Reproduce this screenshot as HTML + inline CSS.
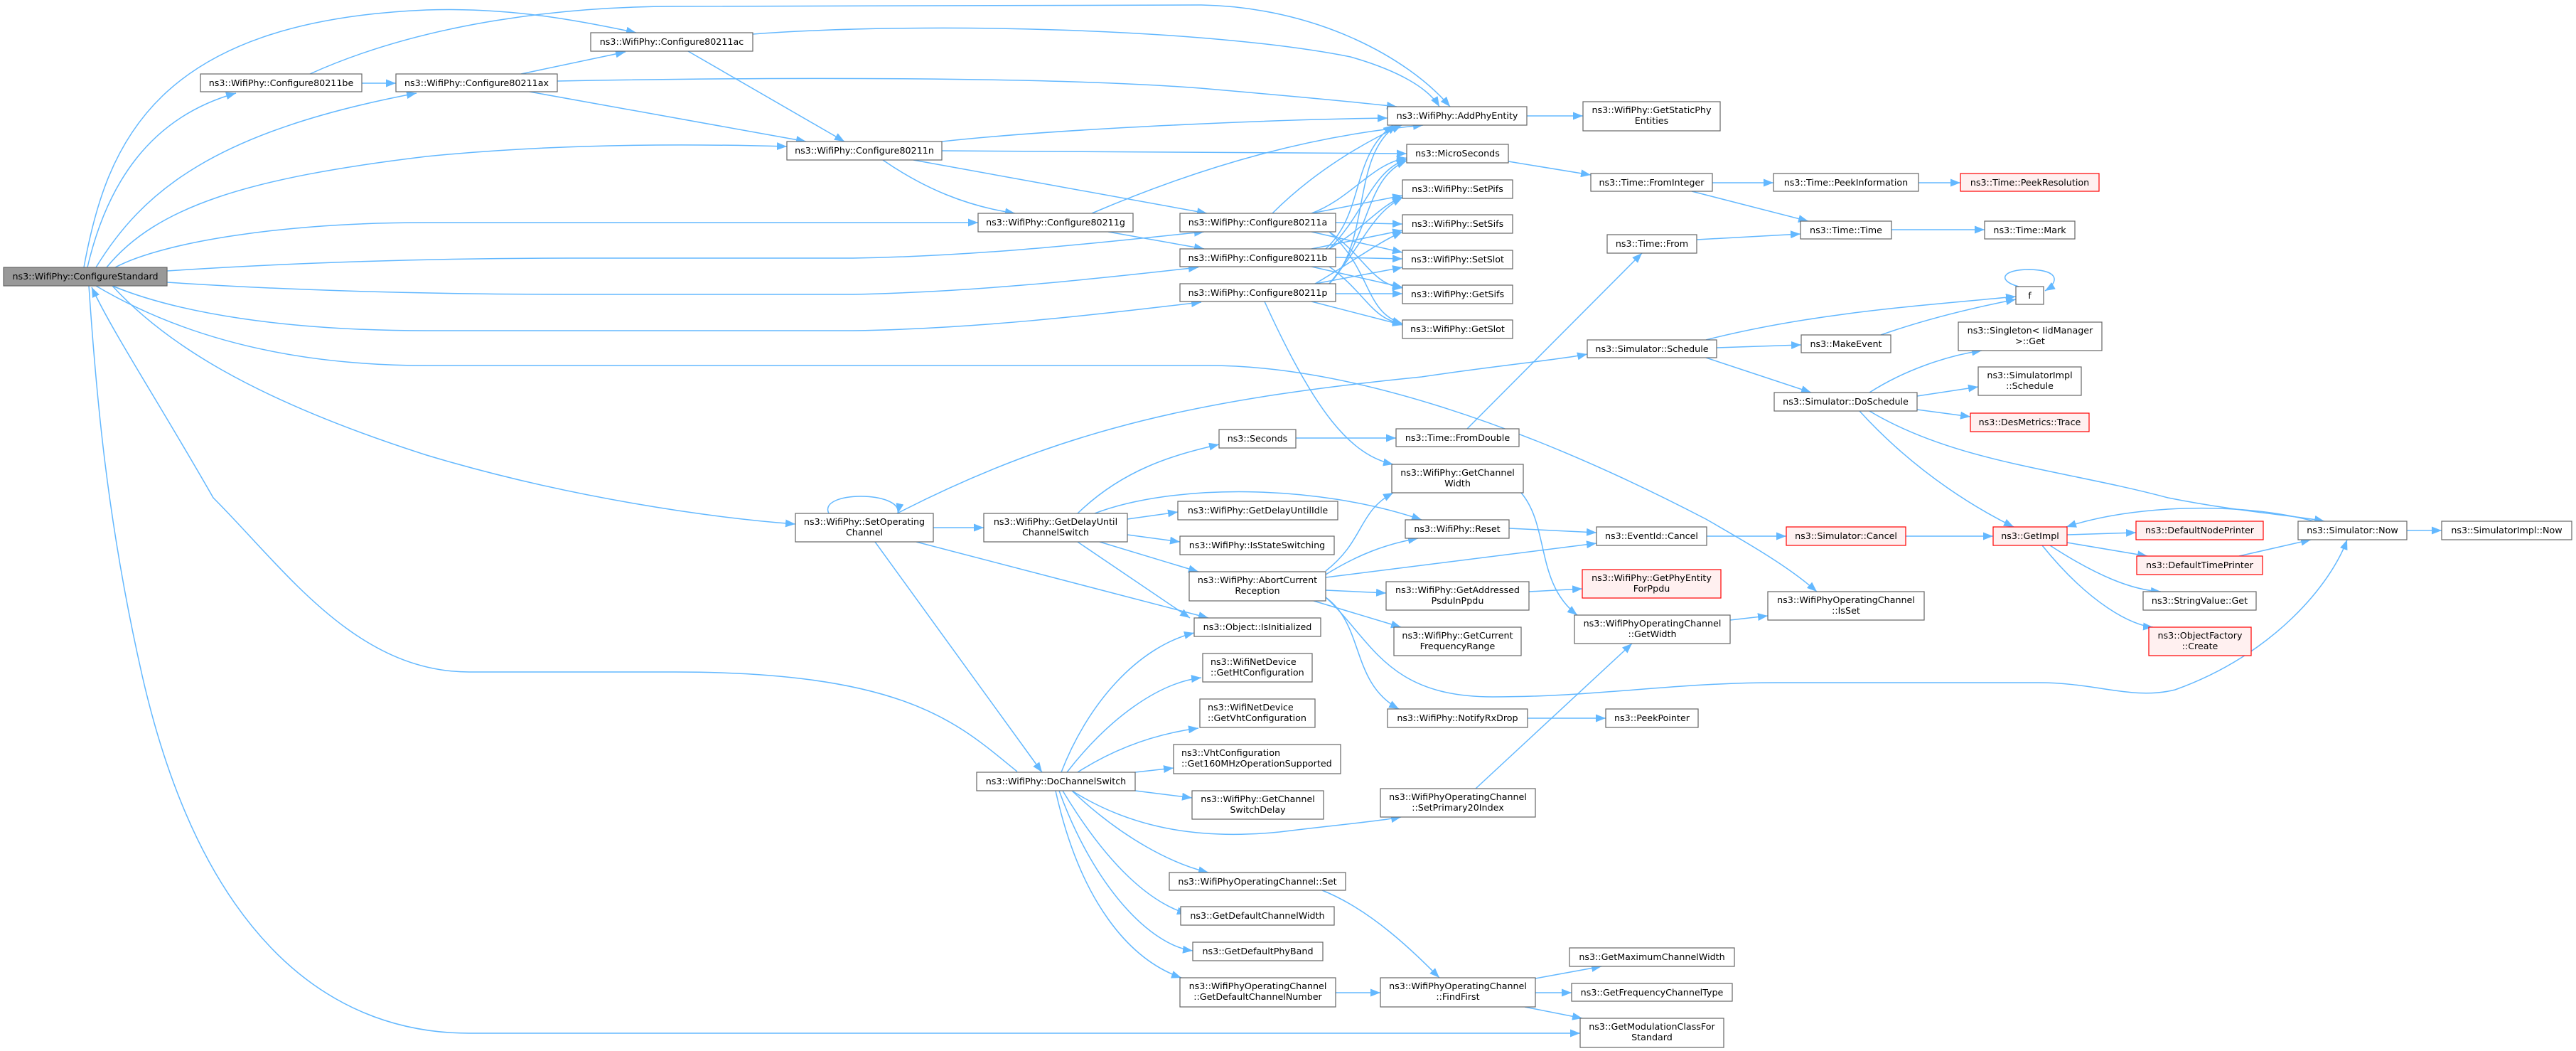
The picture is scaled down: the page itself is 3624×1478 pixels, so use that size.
<!DOCTYPE html>
<html><head><meta charset="utf-8"><style>
html,body{margin:0;padding:0;background:#fff;}
svg{display:block;}
text{font-family:"DejaVu Sans","Liberation Sans",sans-serif;font-size:12.7px;fill:#000;}
.e{fill:none;stroke:#63b8ff;stroke-width:1.5;marker-end:url(#ah);}
.n{fill:#fff;stroke:#666;stroke-width:1.2;}
.r{fill:#fff0f0;stroke:#ff0000;stroke-width:1.2;}
.root{fill:#999;stroke:#666;stroke-width:1.2;}
</style></head><body>
<svg width="3624" height="1478" viewBox="0 0 3624 1478" xmlns="http://www.w3.org/2000/svg">
<defs><marker id="ah" markerUnits="userSpaceOnUse" markerWidth="15" markerHeight="11" refX="14" refY="5.5" orient="auto"><path d="M0,0 L14,5.5 L0,11 z" fill="#63b8ff"/></marker></defs>
<g>
<path class="e" d="M123,376 C150,260 210,165 332,131"/>
<path class="e" d="M135,376 C200,270 300,185 586,131"/>
<path class="e" d="M118,376 C150,200 220,30 600,14 C720,10 820,30 895,46"/>
<path class="e" d="M436,104 C600,30 800,9 950,9 L1690,7 C1850,10 1980,80 2040,150"/>
<path class="e" d="M1059,48 C1300,30 1700,40 1900,80 C1970,100 2010,125 2025,150"/>
<path class="e" d="M784,114 C1100,108 1500,108 1700,125 C1850,138 1930,146 1965,150"/>
<path class="e" d="M1325,199 C1500,180 1800,168 1952,166"/>
<path class="e" d="M150,376 C220,290 350,250 600,220 C800,200 1000,203 1107,206"/>
<path class="e" d="M162,376 C230,340 400,313 600,313 L1376,313"/>
<path class="e" d="M235,381 C400,370 600,363 800,363 L1200,363 C1400,360 1600,335 1694,326"/>
<path class="e" d="M235,397 C400,408 600,414 800,414 L1200,414 C1400,410 1600,385 1686,376"/>
<path class="e" d="M158,402 C250,440 400,465 600,465 L1200,465 C1400,462 1600,435 1690,425"/>
<path class="e" d="M135,402 C250,470 400,514 600,514 L1700,514 C1900,514 2150,600 2400,730 C2470,770 2520,800 2556,832"/>
<path class="e" d="M158,402 C230,480 350,560 600,640 C800,700 1000,728 1119,737"/>
<path class="e" d="M1431,1085 C1350,1020 1280,945 950,945 L660,945 C500,945 400,800 300,700 C220,560 160,470 129,404"/>
<path class="e" d="M125,402 C135,550 150,730 200,950 C280,1300 450,1453 660,1453 L2223,1453"/>
<path class="e" d="M509,117 L557,117"/>
<path class="e" d="M733,104 L880,73"/>
<path class="e" d="M745,129 L1134,199"/>
<path class="e" d="M968,72 L1188,199"/>
<path class="e" d="M1325,212 C1600,213 1800,215 1979,216"/>
<path class="e" d="M1242,225 C1300,265 1360,290 1428,300"/>
<path class="e" d="M1285,225 L1698,300"/>
<path class="e" d="M1536,300 C1700,230 1850,190 2002,176"/>
<path class="e" d="M1559,326 L1694,350"/>
<path class="e" d="M1790,300 C1850,240 1920,200 1972,176"/>
<path class="e" d="M1845,300 C1900,280 1930,230 1979,222"/>
<path class="e" d="M1845,300 L1973,275"/>
<path class="e" d="M1879,313 L1973,315"/>
<path class="e" d="M1845,326 L1973,355"/>
<path class="e" d="M1870,326 C1920,360 1930,400 1973,405"/>
<path class="e" d="M1870,326 C1930,380 1920,440 1973,455"/>
<path class="e" d="M1865,350 C1920,300 1900,220 1960,176"/>
<path class="e" d="M1870,350 C1920,300 1930,240 1979,224"/>
<path class="e" d="M1870,350 C1920,320 1940,290 1973,277"/>
<path class="e" d="M1845,350 L1973,324"/>
<path class="e" d="M1879,362 L1973,364"/>
<path class="e" d="M1845,375 L1973,404"/>
<path class="e" d="M1870,375 C1920,410 1930,450 1973,455"/>
<path class="e" d="M1870,399 C1930,340 1900,220 1965,176"/>
<path class="e" d="M1870,399 C1930,330 1920,250 1979,226"/>
<path class="e" d="M1870,399 C1920,340 1930,300 1973,278"/>
<path class="e" d="M1850,399 C1900,370 1940,340 1973,326"/>
<path class="e" d="M1850,399 L1973,376"/>
<path class="e" d="M1879,413 L1973,413"/>
<path class="e" d="M1845,424 L1973,457"/>
<path class="e" d="M1779,424 C1850,580 1900,640 1960,653"/>
<path class="e" d="M2148,163 L2227,163"/>
<path class="e" d="M2122,227 L2238,246"/>
<path class="e" d="M2409,257 L2495,257"/>
<path class="e" d="M2380,269 L2544,311"/>
<path class="e" d="M2699,257 L2758,257"/>
<path class="e" d="M2387,337 L2533,329"/>
<path class="e" d="M2661,323 L2792,323"/>
<path class="e" d="M2064,603 L2310,356"/>
<path class="e" d="M1823,616 L1964,616"/>
<path class="e" d="M2400,478 C2550,440 2700,430 2836,417"/>
<path class="e" d="M2415,489 L2534,485"/>
<path class="e" d="M2646,471 C2720,445 2790,430 2836,421"/>
<path class="e" d="M2840,403 C2810,395 2815,379 2855,379 C2900,380 2895,398 2877,409"/>
<path class="e" d="M2400,503 L2548,552"/>
<path class="e" d="M2630,552 C2680,520 2740,500 2788,493"/>
<path class="e" d="M2697,557 L2783,544"/>
<path class="e" d="M2697,576 L2772,586"/>
<path class="e" d="M2616,578 C2700,670 2790,720 2833,741"/>
<path class="e" d="M2630,578 C2750,650 2900,660 3050,700 C3150,720 3230,725 3270,733"/>
<path class="e" d="M3255,733 C3150,705 3000,710 2907,741"/>
<path class="e" d="M1262,722 C1500,600 1700,560 2000,530 C2100,515 2200,505 2233,498"/>
<path class="e" d="M1166,722 C1150,690 1270,690 1263,722"/>
<path class="e" d="M1313,742 L1384,742"/>
<path class="e" d="M1289,762 L1700,869"/>
<path class="e" d="M1231,762 L1466,1086"/>
<path class="e" d="M1516,722 C1580,660 1650,640 1715,625"/>
<path class="e" d="M1540,722 C1650,680 1850,680 2000,731"/>
<path class="e" d="M1586,730 L1657,720"/>
<path class="e" d="M1586,752 L1660,762"/>
<path class="e" d="M1547,762 L1686,804"/>
<path class="e" d="M1516,762 L1674,869"/>
<path class="e" d="M1865,803 C1920,760 1910,720 1960,693"/>
<path class="e" d="M1865,808 C1910,780 1950,765 1995,757"/>
<path class="e" d="M1865,812 L2246,764"/>
<path class="e" d="M1865,830 L1950,834"/>
<path class="e" d="M1848,845 L1971,882"/>
<path class="e" d="M1865,840 C1920,880 1900,960 1968,997"/>
<path class="e" d="M1865,840 C1930,900 1950,980 2100,980 C2250,980 2350,960 2500,960 L2868,960 C2950,960 3000,985 3060,970 C3200,920 3280,820 3302,759"/>
<path class="e" d="M2123,743 L2246,749"/>
<path class="e" d="M2140,693 C2180,740 2160,820 2219,865"/>
<path class="e" d="M2401,754 L2513,754"/>
<path class="e" d="M2681,754 L2804,754"/>
<path class="e" d="M2151,832 L2226,828"/>
<path class="e" d="M2434,872 L2487,866"/>
<path class="e" d="M2149,1010 L2259,1010"/>
<path class="e" d="M2076,1109 L2296,905"/>
<path class="e" d="M1493,1086 C1530,990 1600,910 1680,890"/>
<path class="e" d="M1501,1086 C1560,1010 1630,960 1690,953"/>
<path class="e" d="M1516,1086 C1580,1045 1640,1030 1686,1024"/>
<path class="e" d="M1597,1086 L1651,1080"/>
<path class="e" d="M1597,1112 L1677,1122"/>
<path class="e" d="M1508,1112 C1600,1170 1700,1180 1800,1170 C1880,1160 1940,1155 1971,1149"/>
<path class="e" d="M1508,1112 C1580,1180 1650,1215 1700,1227"/>
<path class="e" d="M1495,1112 C1560,1220 1620,1270 1670,1285"/>
<path class="e" d="M1490,1112 C1540,1250 1620,1330 1678,1337"/>
<path class="e" d="M1485,1112 C1520,1270 1590,1350 1662,1375"/>
<path class="e" d="M1860,1252 C1930,1280 1990,1340 2025,1375"/>
<path class="e" d="M1879,1396 L1942,1396"/>
<path class="e" d="M2160,1376 L2253,1359"/>
<path class="e" d="M2160,1396 L2211,1396"/>
<path class="e" d="M2145,1416 L2226,1432"/>
<path class="e" d="M2908,752 L3005,749"/>
<path class="e" d="M2908,763 L3021,782"/>
<path class="e" d="M2884,767 C2950,810 3000,830 3040,832"/>
<path class="e" d="M2873,767 C2940,850 3000,880 3029,882"/>
<path class="e" d="M3150,782 L3251,759"/>
<path class="e" d="M3386,746 L3435,746"/>
</g>
<g text-anchor="middle">
<rect class="root" x="5" y="376" width="230" height="26"/><text x="120" y="393">ns3::WifiPhy::ConfigureStandard</text>
<rect class="n" x="831" y="46" width="228" height="26"/><text x="945" y="63">ns3::WifiPhy::Configure80211ac</text>
<rect class="n" x="282" y="104" width="227" height="25"/><text x="395.5" y="121">ns3::WifiPhy::Configure80211be</text>
<rect class="n" x="557" y="104" width="227" height="25"/><text x="670.5" y="121">ns3::WifiPhy::Configure80211ax</text>
<rect class="n" x="1107" y="199" width="218" height="26"/><text x="1216" y="216">ns3::WifiPhy::Configure80211n</text>
<rect class="n" x="1376" y="300" width="218" height="26"/><text x="1485" y="317">ns3::WifiPhy::Configure80211g</text>
<rect class="n" x="1660" y="300" width="219" height="26"/><text x="1769.5" y="317">ns3::WifiPhy::Configure80211a</text>
<rect class="n" x="1660" y="350" width="219" height="25"/><text x="1769.5" y="367">ns3::WifiPhy::Configure80211b</text>
<rect class="n" x="1660" y="399" width="219" height="25"/><text x="1769.5" y="416">ns3::WifiPhy::Configure80211p</text>
<rect class="n" x="1952" y="150" width="196" height="26"/><text x="2050" y="167">ns3::WifiPhy::AddPhyEntity</text>
<rect class="n" x="2227" y="143" width="193" height="41"/><text x="2323.5" y="159">ns3::WifiPhy::GetStaticPhy</text><text x="2323.5" y="174">Entities</text>
<rect class="n" x="1979" y="203" width="143" height="26"/><text x="2050.5" y="220">ns3::MicroSeconds</text>
<rect class="n" x="1973" y="253" width="155" height="26"/><text x="2050.5" y="270">ns3::WifiPhy::SetPifs</text>
<rect class="n" x="1973" y="302" width="155" height="26"/><text x="2050.5" y="319">ns3::WifiPhy::SetSifs</text>
<rect class="n" x="1973" y="352" width="155" height="26"/><text x="2050.5" y="369">ns3::WifiPhy::SetSlot</text>
<rect class="n" x="1973" y="401" width="155" height="26"/><text x="2050.5" y="418">ns3::WifiPhy::GetSifs</text>
<rect class="n" x="1973" y="450" width="155" height="26"/><text x="2050.5" y="467">ns3::WifiPhy::GetSlot</text>
<rect class="n" x="2238" y="244" width="171" height="25"/><text x="2323.5" y="261">ns3::Time::FromInteger</text>
<rect class="n" x="2495" y="244" width="204" height="25"/><text x="2597" y="261">ns3::Time::PeekInformation</text>
<rect class="r" x="2758" y="244" width="195" height="25"/><text x="2855.5" y="261">ns3::Time::PeekResolution</text>
<rect class="n" x="2533" y="311" width="128" height="25"/><text x="2597" y="328">ns3::Time::Time</text>
<rect class="n" x="2792" y="311" width="127" height="25"/><text x="2855.5" y="328">ns3::Time::Mark</text>
<rect class="n" x="2261" y="330" width="126" height="26"/><text x="2324" y="347">ns3::Time::From</text>
<rect class="n" x="2836" y="403" width="39" height="25"/><text x="2855.5" y="420">f</text>
<rect class="n" x="2233" y="478" width="182" height="25"/><text x="2324" y="495">ns3::Simulator::Schedule</text>
<rect class="n" x="2534" y="471" width="126" height="25"/><text x="2597" y="488">ns3::MakeEvent</text>
<rect class="n" x="2755" y="453" width="202" height="40"/><text x="2856" y="469">ns3::Singleton&lt; IidManager</text><text x="2856" y="484">&gt;::Get</text>
<rect class="n" x="2783" y="516" width="145" height="40"/><text x="2855.5" y="532">ns3::SimulatorImpl</text><text x="2855.5" y="547">::Schedule</text>
<rect class="n" x="2496" y="552" width="201" height="26"/><text x="2596.5" y="569">ns3::Simulator::DoSchedule</text>
<rect class="r" x="2772" y="581" width="167" height="26"/><text x="2855.5" y="598">ns3::DesMetrics::Trace</text>
<rect class="n" x="1715" y="604" width="108" height="26"/><text x="1769" y="621">ns3::Seconds</text>
<rect class="n" x="1964" y="603" width="173" height="25"/><text x="2050.5" y="620">ns3::Time::FromDouble</text>
<rect class="n" x="1958" y="653" width="185" height="40"/><text x="2050.5" y="669">ns3::WifiPhy::GetChannel</text><text x="2050.5" y="684">Width</text>
<rect class="n" x="1119" y="722" width="194" height="40"/><text x="1216" y="738">ns3::WifiPhy::SetOperating</text><text x="1216" y="753">Channel</text>
<rect class="n" x="1384" y="722" width="202" height="40"/><text x="1485" y="738">ns3::WifiPhy::GetDelayUntil</text><text x="1485" y="753">ChannelSwitch</text>
<rect class="n" x="1657" y="705" width="225" height="26"/><text x="1769.5" y="722">ns3::WifiPhy::GetDelayUntilIdle</text>
<rect class="n" x="1977" y="731" width="146" height="26"/><text x="2050" y="748">ns3::WifiPhy::Reset</text>
<rect class="n" x="1660" y="754" width="217" height="26"/><text x="1768.5" y="771">ns3::WifiPhy::IsStateSwitching</text>
<rect class="n" x="1673" y="804" width="192" height="41"/><text x="1769" y="820">ns3::WifiPhy::AbortCurrent</text><text x="1769" y="835">Reception</text>
<rect class="n" x="2246" y="741" width="155" height="26"/><text x="2323.5" y="758">ns3::EventId::Cancel</text>
<rect class="r" x="2513" y="741" width="168" height="26"/><text x="2597" y="758">ns3::Simulator::Cancel</text>
<rect class="r" x="2804" y="741" width="104" height="26"/><text x="2856" y="758">ns3::GetImpl</text>
<rect class="r" x="3005" y="733" width="179" height="26"/><text x="3094.5" y="750">ns3::DefaultNodePrinter</text>
<rect class="r" x="3006" y="782" width="177" height="26"/><text x="3094.5" y="799">ns3::DefaultTimePrinter</text>
<rect class="n" x="3233" y="733" width="153" height="26"/><text x="3309.5" y="750">ns3::Simulator::Now</text>
<rect class="n" x="3435" y="733" width="183" height="26"/><text x="3526.5" y="750">ns3::SimulatorImpl::Now</text>
<rect class="n" x="1950" y="818" width="201" height="40"/><text x="2050.5" y="834">ns3::WifiPhy::GetAddressed</text><text x="2050.5" y="849">PsduInPpdu</text>
<rect class="r" x="2226" y="801" width="195" height="40"/><text x="2323.5" y="817">ns3::WifiPhy::GetPhyEntity</text><text x="2323.5" y="832">ForPpdu</text>
<rect class="n" x="1680" y="869" width="178" height="26"/><text x="1769" y="886">ns3::Object::IsInitialized</text>
<rect class="n" x="1961" y="882" width="179" height="40"/><text x="2050.5" y="898">ns3::WifiPhy::GetCurrent</text><text x="2050.5" y="913">FrequencyRange</text>
<rect class="n" x="2215" y="865" width="219" height="40"/><text x="2324.5" y="881">ns3::WifiPhyOperatingChannel</text><text x="2324.5" y="896">::GetWidth</text>
<rect class="n" x="2487" y="832" width="220" height="40"/><text x="2597" y="848">ns3::WifiPhyOperatingChannel</text><text x="2597" y="863">::IsSet</text>
<rect class="n" x="3015" y="832" width="159" height="26"/><text x="3094.5" y="849">ns3::StringValue::Get</text>
<rect class="r" x="3023" y="882" width="144" height="40"/><text x="3095" y="898">ns3::ObjectFactory</text><text x="3095" y="913">::Create</text>
<rect class="n" x="1952" y="997" width="197" height="26"/><text x="2050.5" y="1014">ns3::WifiPhy::NotifyRxDrop</text>
<rect class="n" x="2259" y="997" width="130" height="26"/><text x="2324" y="1014">ns3::PeekPointer</text>
<rect class="n" x="1374" y="1086" width="223" height="26"/><text x="1485.5" y="1103">ns3::WifiPhy::DoChannelSwitch</text>
<rect class="n" x="1677" y="1112" width="185" height="40"/><text x="1769.5" y="1128">ns3::WifiPhy::GetChannel</text><text x="1769.5" y="1143">SwitchDelay</text>
<rect class="n" x="1942" y="1109" width="218" height="40"/><text x="2051" y="1125">ns3::WifiPhyOperatingChannel</text><text x="2051" y="1140">::SetPrimary20Index</text>
<rect class="n" x="1645" y="1227" width="248" height="25"/><text x="1769" y="1244">ns3::WifiPhyOperatingChannel::Set</text>
<rect class="n" x="1661" y="1275" width="216" height="26"/><text x="1769" y="1292">ns3::GetDefaultChannelWidth</text>
<rect class="n" x="1678" y="1325" width="183" height="26"/><text x="1769.5" y="1342">ns3::GetDefaultPhyBand</text>
<rect class="n" x="1660" y="1375" width="219" height="41"/><text x="1769.5" y="1391">ns3::WifiPhyOperatingChannel</text><text x="1769.5" y="1406">::GetDefaultChannelNumber</text>
<rect class="n" x="1942" y="1375" width="218" height="41"/><text x="2051" y="1391">ns3::WifiPhyOperatingChannel</text><text x="2051" y="1406">::FindFirst</text>
<rect class="n" x="2208" y="1333" width="232" height="26"/><text x="2324" y="1350">ns3::GetMaximumChannelWidth</text>
<rect class="n" x="2211" y="1383" width="226" height="25"/><text x="2324" y="1400">ns3::GetFrequencyChannelType</text>
<rect class="n" x="2223" y="1432" width="202" height="41"/><text x="2324" y="1448">ns3::GetModulationClassFor</text><text x="2324" y="1463">Standard</text>
</g>
<g text-anchor="start">
<rect class="n" x="1692" y="919" width="154" height="40"/><text x="1703" y="935">ns3::WifiNetDevice</text><text x="1703" y="950">::GetHtConfiguration</text>
<rect class="n" x="1688" y="983" width="162" height="40"/><text x="1699" y="999">ns3::WifiNetDevice</text><text x="1699" y="1014">::GetVhtConfiguration</text>
<rect class="n" x="1651" y="1047" width="235" height="41"/><text x="1662" y="1063">ns3::VhtConfiguration</text><text x="1662" y="1078">::Get160MHzOperationSupported</text>
</g>
</svg>
</body></html>
